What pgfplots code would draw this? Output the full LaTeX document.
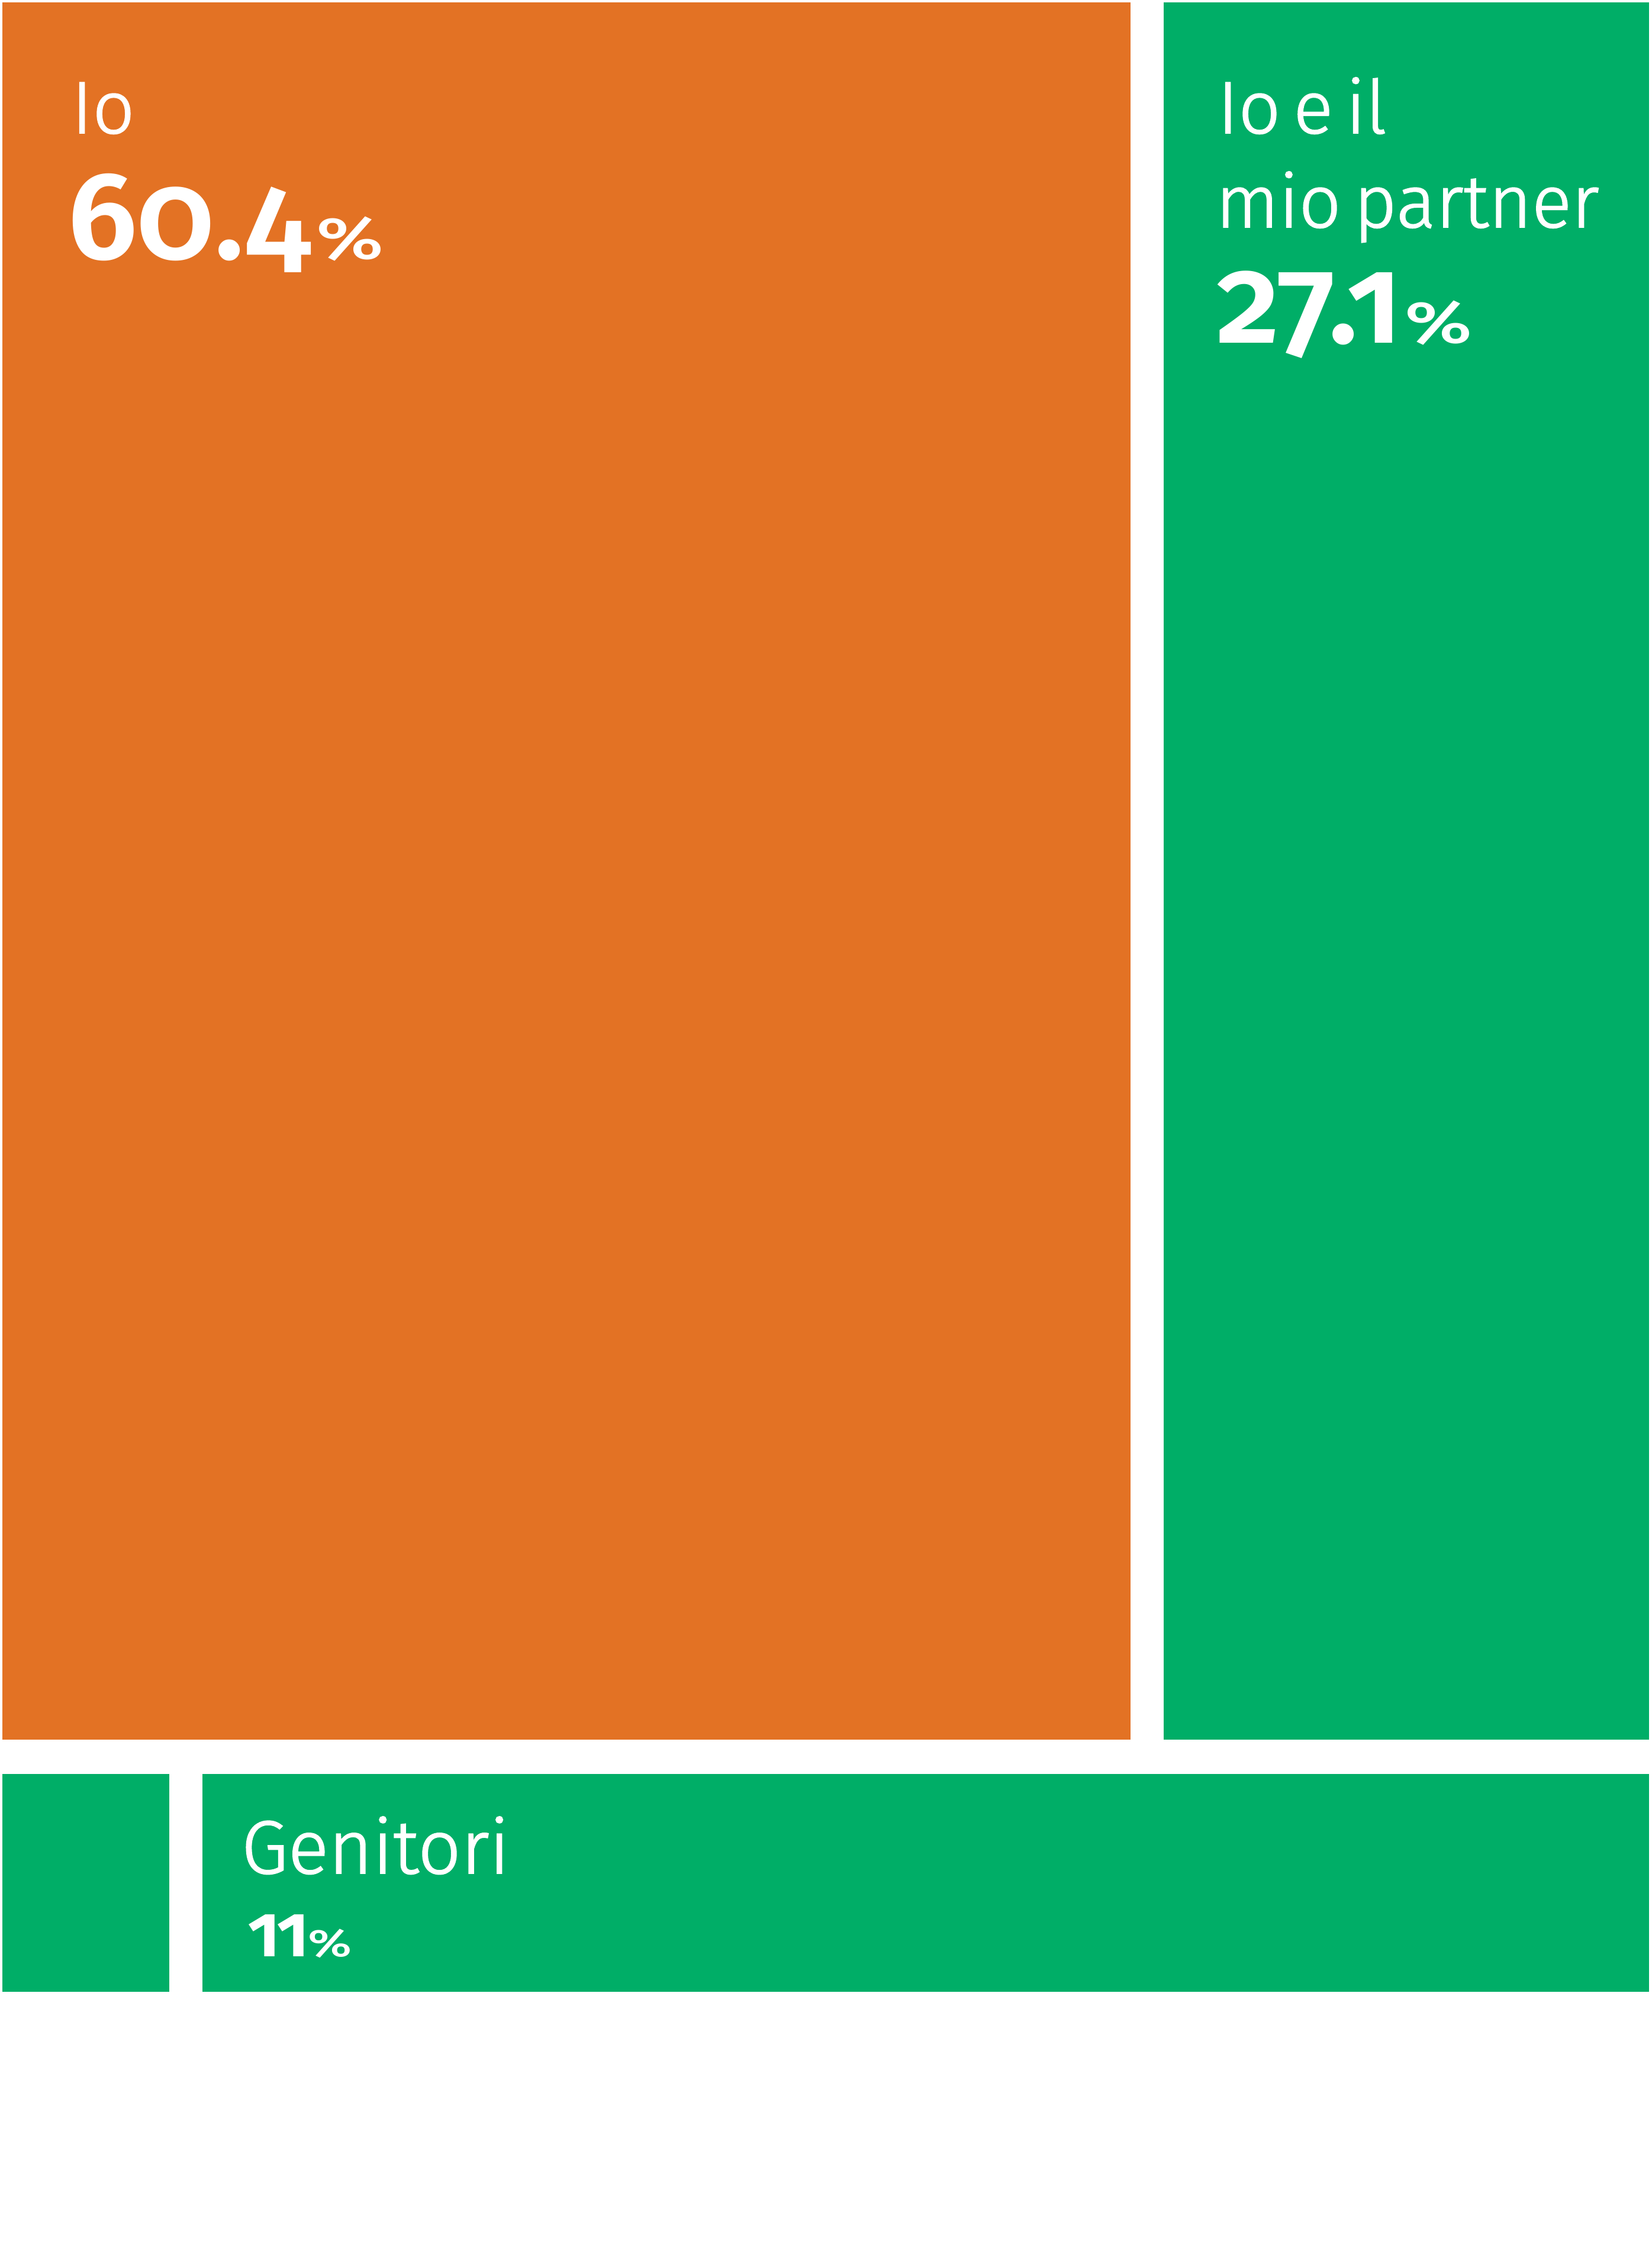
\documentclass[border=0pt]{standalone}
\usepackage{pgfplots}
\pgfplotsset{compat=1.18}
\usepackage{graphicx}
\usepackage{fontspec}
\setmainfont{Fira Sans}[Numbers=OldStyle]
\newfontfamily\lightfont{Fira Sans Light}[Numbers=OldStyle, FakeBold=1.5]
\newfontfamily\numfont{Fira Sans SemiBold}[Numbers=OldStyle]
\newfontfamily\pctfont{Fira Sans Medium}
\definecolor{orangeC}{HTML}{E37224}
\definecolor{greenC}{HTML}{00AE67}
\tikzset{lab/.style={inner sep=0pt, outer sep=0pt, text=white, anchor=base west}}
\newcommand{\wsp}{\hspace{4.3pt}}
\begin{document}
\begin{tikzpicture}
\begin{axis}[
  scale only axis, width=558.2pt, height=757.2pt,
  xmin=0, xmax=2791, ymin=0, ymax=3786, y dir=reverse,
  axis line style={draw=none}, ticks=none, clip=false]
% Io
\addplot[fill=orangeC, draw=none] coordinates {(4,4) (1910,4) (1910,2939) (4,2939)} --cycle;
% Io e il mio partner
\addplot[fill=greenC, draw=none] coordinates {(1966,4) (2786,4) (2786,2939) (1966,2939)} --cycle;
% small
\addplot[fill=greenC, draw=none] coordinates {(4,2997) (286,2997) (286,3365) (4,3365)} --cycle;
% Genitori
\addplot[fill=greenC, draw=none] coordinates {(342,2997) (2786,2997) (2786,3365) (342,3365)} --cycle;

\node[lab] at (axis cs:121,225) {\lightfont\fontsize{25}{30}\selectfont Io};
\node[lab] at (axis cs:114,437) {\numfont\fontsize{42}{42}\selectfont 60.4\hspace{2pt}\pctfont\fontsize{20}{20}\selectfont\scalebox{1.35}[1]{\%}};
\node[lab] at (axis cs:2057,225) {\lightfont\fontsize{25}{30}\selectfont Io\wsp e\wsp il};
\node[lab] at (axis cs:2054,384) {\lightfont\fontsize{25}{30}\selectfont mio\wsp partner};
\node[lab] at (axis cs:2055,579) {\numfont\fontsize{42}{42}\selectfont 27.1\hspace{1pt}\pctfont\fontsize{20}{20}\selectfont\scalebox{1.35}[1]{\%}};
\node[lab] at (axis cs:408,3165) {\lightfont\fontsize{25.5}{30}\selectfont Genitori};
\node[lab] at (axis cs:418,3305) {\numfont\fontsize{25}{25}\selectfont 1\kern-1.2pt1\kern-0.5pt\pctfont\fontsize{13}{13}\selectfont\scalebox{1.35}[1]{\%}};
\end{axis}
\end{tikzpicture}
\end{document}
